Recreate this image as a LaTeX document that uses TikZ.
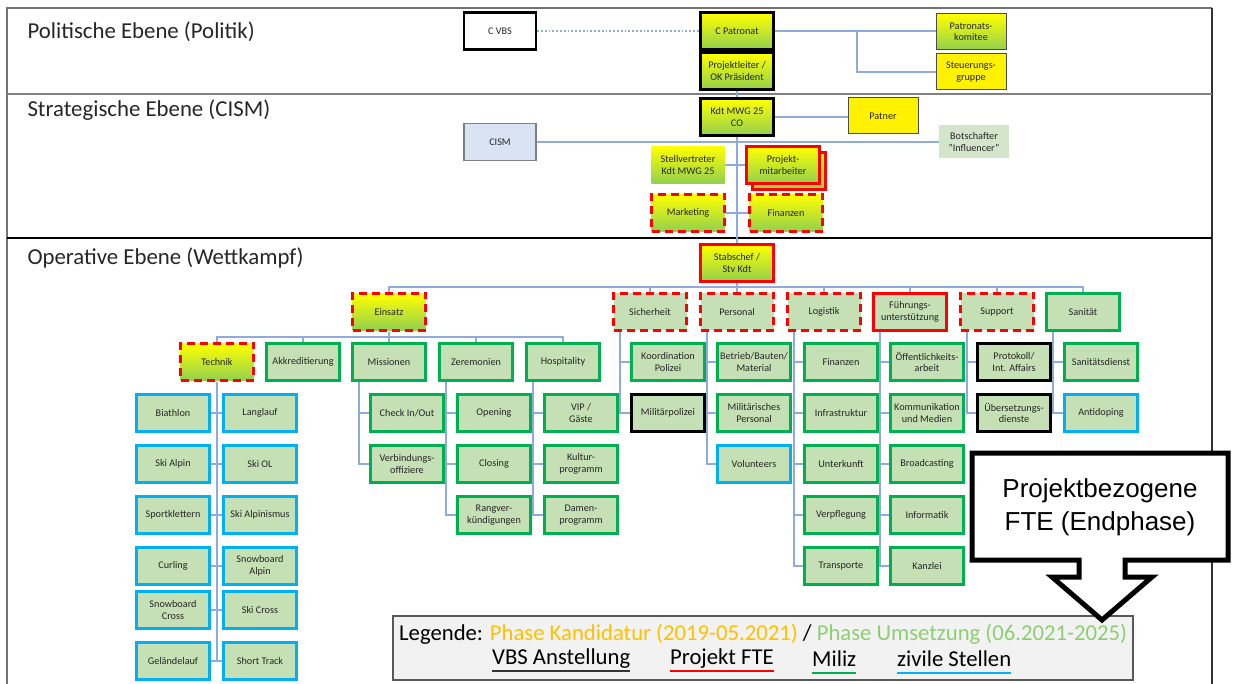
\documentclass[tikz,border=0pt]{standalone}
\usepackage{fontspec}
\setmainfont{Carlito}
\newfontfamily\calloutfont{Liberation Sans}
\usetikzlibrary{positioning}

\definecolor{paleg}{HTML}{C5E0B4}
\definecolor{milg}{HTML}{00B050}
\definecolor{zivb}{HTML}{00B0F0}
\definecolor{lineb}{HTML}{8FAADC}
\definecolor{gradg}{HTML}{92D050}
\definecolor{cismb}{HTML}{DAE3F3}
\definecolor{botg}{HTML}{D3E6CB}
\definecolor{kand}{HTML}{FFC000}
\definecolor{ums}{HTML}{8CCF72}

\tikzset{
  base/.style={minimum width=73pt, minimum height=37pt, inner sep=1pt, align=center,
    font=\fontsize{10.2}{11.5}\selectfont, text=black!85},
  mil/.style={base, fill=paleg, draw=milg, line width=2.5pt},
  ziv/.style={base, fill=paleg, draw=zivb, line width=2.5pt},
  vbs/.style={base, fill=paleg, draw=black, line width=2.5pt},
  fte/.style={base, fill=paleg, draw=red, line width=2.5pt, dash pattern=on 8pt off 5pt},
  ftefull/.style={base, fill=paleg, draw=red, line width=2.5pt},
  grad/.style={base, top color=yellow, bottom color=gradg},
  gradfte/.style={grad, draw=red, line width=2.5pt, dash pattern=on 8pt off 5pt},
  gradchef/.style={grad, draw=black, line width=3pt},
  yel/.style={base, fill=yellow, draw=black!70, line width=1pt, minimum width=70pt, minimum height=36pt},
  conn/.style={draw=lineb, line width=1.8pt},
  ebene/.style={anchor=west, font=\fontsize{22.8}{26}\selectfont, text=black!85},
  legtext/.style={anchor=west, inner sep=0pt, font=\fontsize{22.7}{26}\selectfont},
  uline/.style={line width=1.6pt}
}

\begin{document}
\begin{tikzpicture}[x=1pt, y=-1pt]
\useasboundingbox (0,0) rectangle (1234,684);

% Rahmen und Ebenen
\draw[line width=2pt, black!55] (7,684) -- (7,8) -- (1212,8);
\draw[line width=2pt, black!80] (1212,8) -- (1212,684);
\draw[line width=2pt, black!50] (7,94) -- (1212,94);
\draw[line width=2.5pt, black] (7,238) -- (1212,238);
\node[ebene] (pol) at (24,32) {Politische Ebene (Politik)};
\node[ebene] (strat) at (24,110) {Strategische Ebene (CISM)};
\node[ebene] (oper) at (24,258) {Operative Ebene (Wettkampf)};

% Politische Ebene
\node[vbs, fill=white, minimum width=72pt] (cvbs) at (500,31) {C VBS};
\node[gradchef] (cpat) at (737,31) {C Patronat};
\node[gradchef] (projl) at (737,71) {Projektleiter /\\OK Präsident};
\node[grad, draw=black!70, line width=1pt, minimum width=70pt, minimum height=36pt] (patk) at (971,32) {Patronats-\\komitee};
\node[yel] (steu) at (971,72) {Steuerungs-\\gruppe};

% Strategische Ebene
\node[gradchef] (kdt) at (737,117) {Kdt MWG 25\\CO};
\node[yel] (patner) at (883,116) {Patner};
\node[base, fill=cismb, draw=black!50, line width=1.5pt, minimum width=72pt] (cism) at (500,142) {CISM};
\node[base, fill=botg, minimum width=70pt, minimum height=33pt] (botsch) at (974,142) {Botschafter\\"Influencer"};
\node[grad] (stv) at (688,165) {Stellvertreter\\Kdt MWG 25};
\node[grad, draw=red, line width=2.5pt] (projmb) at (789,171) {};
\node[grad, draw=red, line width=2.5pt] (projm) at (783,165) {Projekt-\\mitarbeiter};
\node[gradfte] (mark) at (688,213) {Marketing};
\node[gradfte] (fin1) at (786,213) {Finanzen};

\draw[conn, dotted, line width=1.2pt] (cvbs.east) -- (cpat.west);
\draw[conn] (cpat.east) -- (cpat.east -| patk.west);
\coordinate (br) at (857,31);
\draw[conn] (br) |- (steu.west);
\draw[conn] (cpat.south) -- (projl.north);
\draw[conn] (projl.south) -- (kdt.north);
\draw[conn] (kdt.east) -- (kdt.east -| patner.west);
\draw[conn] (cism.east) -- (botsch.west);
\draw[conn] (stv.east) -- (projm.west);
\draw[conn] (mark.east) -- (fin1.west);

% Operative Ebene
\node[grad, draw=red, line width=2.5pt] (stab) at (737,263) {Stabschef /\\Stv Kdt};
\draw[conn] (kdt.south) -- (stab.north);

\node[gradfte] (einsatz) at (389,312) {Einsatz};
\node[fte] (sich) at (650,312) {Sicherheit};
\node[fte] (pers) at (737,312) {Personal};
\node[fte] (log) at (824,312) {Logistik};
\node[ftefull] (fue) at (910,312) {Führungs-\\unterstützung};
\node[fte] (supp) at (997,312) {Support};
\node[mil] (san) at (1083,312) {Sanität};

\coordinate (bus2) at (737,287);
\draw[conn] (stab.south) -- (bus2);
\draw[conn] (einsatz.north) |- (bus2) -| (san.north);
\foreach \n in {sich,pers,log,fue,supp}
  \draw[conn] (\n.north) -- (\n.north |- bus2);

% Einsatz
\node[gradfte] (tech) at (217,362) {Technik};
\node[mil] (akk) at (303,362) {Akkreditierung};
\node[mil] (miss) at (389,362) {Missionen};
\node[mil] (zer) at (476,362) {Zeremonien};
\node[mil] (hosp) at (563,362) {Hospitality};

\coordinate (bus3) at (389,337);
\draw[conn] (einsatz.south) -- (bus3);
\draw[conn] (tech.north) |- (bus3) -| (hosp.north);
\foreach \n in {akk,miss,zer}
  \draw[conn] (\n.north) -- (\n.north |- bus3);

% Technik
\node[ziv] (biath) at (173,413) {Biathlon};
\node[ziv] (langl) at (260,413) {Langlauf};
\node[ziv] (skialp) at (173,464) {Ski Alpin};
\node[ziv] (skiol) at (260,464) {Ski OL};
\node[ziv] (klett) at (173,515) {Sportklettern};
\node[ziv] (alpin) at (260,515) {Ski Alpinismus};
\node[ziv] (curl) at (173,566) {Curling};
\node[ziv] (sbalp) at (260,566) {Snowboard\\Alpin};
\node[ziv] (sbcross) at (173,610) {Snowboard\\Cross};
\node[ziv] (skicross) at (260,610) {Ski Cross};
\node[ziv] (gel) at (173,661) {Geländelauf};
\node[ziv] (track) at (260,661) {Short Track};

\draw[conn] (tech.south) -- (tech.south |- gel.east);
\foreach \l/\r in {biath/langl,skialp/skiol,klett/alpin,curl/sbalp,sbcross/skicross,gel/track}
  \draw[conn] (\l.east) -- (\r.west);

% Missionen, Zeremonien, Hospitality
\node[mil] (check) at (407,413) {Check In/Out};
\node[mil] (verb) at (407,464) {Verbindungs-\\offiziere};
\node[mil] (open) at (494,413) {Opening};
\node[mil] (clos) at (494,464) {Closing};
\node[mil] (rang) at (494,515) {Rangver-\\kündigungen};
\node[mil] (vip) at (581,413) {VIP /\\Gäste};
\node[mil] (kult) at (581,464) {Kultur-\\programm};
\node[mil] (dam) at (581,515) {Damen-\\programm};

\foreach \c in {check,verb}
  \draw[conn] ([xshift=8pt]miss.south west) |- (\c.west);
\foreach \c in {open,clos,rang}
  \draw[conn] ([xshift=8pt]zer.south west) |- (\c.west);
\foreach \c in {vip,kult,dam}
  \draw[conn] ([xshift=8pt]hosp.south west) |- (\c.west);

% Sicherheit, Personal, Logistik
\node[mil] (koord) at (668,362) {Koordination\\Polizei};
\node[vbs] (milpol) at (668,413) {Militärpolizei};
\node[mil] (betr) at (754,362) {Betrieb/Bauten/\\Material};
\node[mil] (milpers) at (754,413) {Militärisches\\Personal};
\node[ziv] (vol) at (754,464) {Volunteers};
\node[mil] (fin2) at (841,362) {Finanzen};
\node[mil] (infra) at (841,413) {Infrastruktur};
\node[mil] (unterk) at (841,464) {Unterkunft};
\node[mil] (verpf) at (841,515) {Verpflegung};
\node[mil] (transp) at (841,566) {Transporte};

\foreach \c in {koord,milpol}
  \draw[conn] ([xshift=8pt]sich.south west) |- (\c.west);
\foreach \c in {betr,milpers,vol}
  \draw[conn] ([xshift=8pt]pers.south west) |- (\c.west);
\foreach \c in {fin2,infra,unterk,verpf,transp}
  \draw[conn] ([xshift=8pt]log.south west) |- (\c.west);

% Fuehrungsunterstuetzung, Support, Sanitaet
\node[mil] (oeff) at (927,362) {Öffentlichkeits-\\arbeit};
\node[mil] (komm) at (927,413) {Kommunikation\\und Medien};
\node[mil] (broad) at (927,464) {Broadcasting};
\node[mil] (info) at (927,515) {Informatik};
\node[mil] (kanz) at (927,566) {Kanzlei};
\node[vbs] (prot) at (1014,362) {Protokoll/\\Int. Affairs};
\node[vbs] (uebers) at (1014,413) {Übersetzungs-\\dienste};
\node[mil] (sand) at (1101,362) {Sanitätsdienst};
\node[ziv] (anti) at (1101,413) {Antidoping};

\foreach \c in {oeff,komm,broad,info,kanz}
  \draw[conn] ([xshift=8pt]fue.south west) |- (\c.west);
\foreach \c in {prot,uebers}
  \draw[conn] ([xshift=8pt]supp.south west) |- (\c.west);
\foreach \c in {sand,anti}
  \draw[conn] ([xshift=8pt]san.south west) |- (\c.west);

% Legende
\draw[fill=black!5, draw=black!65, line width=1.5pt] (393,616) rectangle (1133,680);
\node[legtext] (leg) at (399,634)
  {Legende: \textcolor{kand}{Phase Kandidatur (2019-05.2021)} / \textcolor{ums}{Phase Umsetzung (06.2021-2025)}};
\node[legtext] (lvbs) at (492,659) {VBS Anstellung};
\node[legtext] (lfte) at (670,659) {Projekt FTE};
\node[legtext] (lmil) at (812,659) {Miliz};
\node[legtext] (lziv) at (897,659) {zivile Stellen};
\draw[uline, black!80] ([yshift=-6pt]lvbs.base west) -- ([yshift=-6pt]lvbs.base east);
\draw[uline, red] ([yshift=-6pt]lfte.base west) -- ([yshift=-6pt]lfte.base east);
\draw[uline, milg] ([yshift=-6pt]lmil.base west) -- ([yshift=-6pt]lmil.base east);
\draw[uline, zivb] ([yshift=-6pt]lziv.base west) -- ([yshift=-6pt]lziv.base east);

% Callout
\draw[fill=white, line width=5pt, line join=miter] (972,453) -- (1228,453) -- (1228,560) -- (1125,560)
  -- (1125,577) -- (1152,577) -- (1102,620) -- (1052,577) -- (1079,577) -- (1079,560) -- (972,560) -- cycle;
\node[align=center, font=\calloutfont\fontsize{26}{33}\selectfont] (fte) at (1100,507)
  {Projektbezogene\\FTE (Endphase)};
\end{tikzpicture}
\end{document}
